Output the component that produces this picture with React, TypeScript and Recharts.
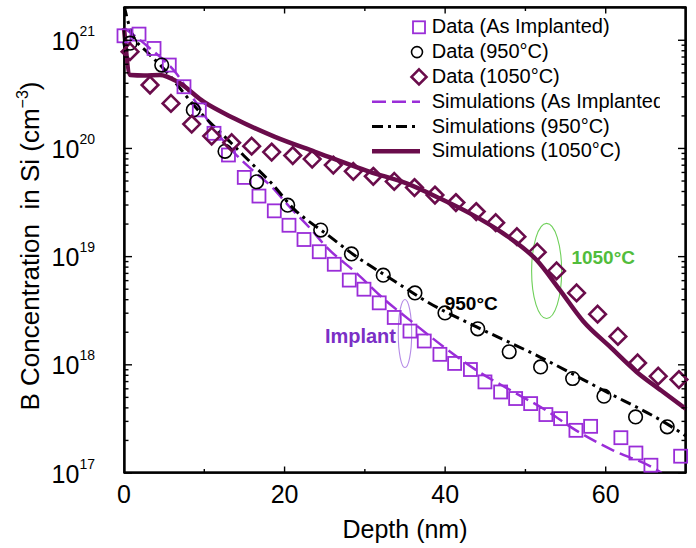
import React from 'react';
import {
  ComposedChart, Line, Scatter, XAxis, YAxis, ReferenceArea, ReferenceDot, Legend,
} from 'recharts';

const W = 696;
const H = 548;
const FONT = '"Liberation Sans", Arial, Helvetica, sans-serif';
const PURPLE = '#9a2dd8';
const MAROON = '#6a0c4b';
const GREEN = '#52bd3c';

// SIMS data (depth in nm, concentration in cm^-3)
const implantDepth = [0, 1.87, 3.74, 5.64, 7.47, 9.38, 11.21, 13.01, 14.98, 16.81, 18.72, 20.55, 22.42, 24.32, 26.19, 28.06, 29.89, 31.79, 33.66, 35.62, 37.4, 39.35, 41.18, 43.15, 44.96, 46.91, 48.78, 50.65, 52.55, 54.38, 56.29, 58.12, 61.89, 63.76, 65.63, 69.33];
const implantConc = [1.1e21, 1.14e21, 8.4e20, 5.9e20, 3.72e20, 2.27e20, 1.38e20, 8.7e19, 5.4e19, 3.63e19, 2.65e19, 1.95e19, 1.44e19, 1.11e19, 8.5e18, 6.07e18, 5.0e18, 3.74e18, 2.74e18, 2.05e18, 1.66e18, 1.25e18, 1.03e18, 9.05e17, 6.95e17, 5.61e17, 4.88e17, 4.38e17, 3.47e17, 3.18e17, 2.48e17, 2.7e17, 2.12e17, 1.53e17, 1.18e17, 1.43e17];

const depth950 = [0.75, 4.7, 8.63, 12.58, 16.52, 20.39, 24.5, 28.33, 32.29, 36.24, 39.98, 44.06, 47.98, 51.89, 55.88, 59.78, 63.72, 67.66];
const conc950 = [9.4e20, 5.9e20, 2.27e20, 9.4e19, 4.92e19, 2.99e19, 1.76e19, 1.06e19, 6.74e18, 4.62e18, 3.02e18, 2.15e18, 1.32e18, 9.56e17, 7.47e17, 5.13e17, 3.3e17, 2.67e17];

const depth1050 = [0.75, 3.24, 5.85, 8.43, 10.92, 13.41, 15.9, 18.39, 21.02, 23.44, 26.07, 28.56, 31.05, 33.66, 36.18, 38.73, 41.34, 43.87, 46.3, 48.94, 51.47, 53.88, 56.37, 58.99, 61.52, 63.97, 66.54, 69.12];
const conc1050 = [7.85e20, 3.86e20, 2.61e20, 1.68e20, 1.3e20, 1.13e20, 1.05e20, 9.26e19, 8.6e19, 7.98e19, 7.02e19, 6.14e19, 5.53e19, 4.96e19, 4.35e19, 3.71e19, 3.16e19, 2.61e19, 2.06e19, 1.53e19, 1.1e19, 7.38e18, 4.62e18, 2.94e18, 1.83e18, 1.04e18, 7.85e17, 7.31e17];

// simulated profiles
const simImpDepth = [0, 1, 3, 6.5, 8.9, 11.3, 13.8, 16, 18.4, 20.6, 23, 25.2, 29, 32.3, 35.6, 39.8, 43.9, 48, 52.55, 56.3, 60.9, 65.7, 67];
const simImpConc = [1.3e21, 1.15e21, 8.7e20, 4.95e20, 2.7e20, 1.48e20, 9.0e19, 6.3e19, 4.42e19, 2.9e19, 1.89e19, 1.23e19, 7.0e18, 4.1e18, 2.59e18, 1.47e18, 8.9e17, 5.9e17, 3.8e17, 2.48e17, 1.62e17, 1.14e17, 1.0e17];

const sim950Depth = [0, 0.9, 3, 4.7, 9.21, 13.41, 16.32, 18.39, 21.3, 23.37, 24.82, 28.98, 33.13, 38.11, 43.92, 51.81, 59.69, 67.58, 70];
const sim950Conc = [2.1e21, 1.2e21, 7.64e20, 5.71e20, 2.27e20, 1.11e20, 6.77e19, 4.76e19, 2.69e19, 2.03e19, 1.7e19, 9.95e18, 6.32e18, 3.69e18, 2.24e18, 1.18e18, 5.82e17, 2.86e17, 2.2e17];

const sim1050Depth = [0, 0.8, 2.5, 4.48, 6.72, 9.96, 13.7, 18.8, 23.79, 30.63, 35.2, 39.35, 43.09, 47.23, 51.39, 54.3, 57.2, 60.52, 63.85, 67.16, 70];
const sim1050Conc = [1.3e21, 4.77e20, 4.72e20, 4.77e20, 4.11e20, 2.69e20, 1.9e20, 1.28e20, 9.31e19, 6.08e19, 4.75e19, 3.45e19, 2.51e19, 1.64e19, 9.29e18, 4.9e18, 2.53e18, 1.47e18, 8.59e17, 5.61e17, 3.9e17];

// axes
const xTicks = [0, 10, 20, 30, 40, 50, 60, 70];
const xMin = 0;
const xMax = 70;
const yDecades = [17, 18, 19, 20, 21];
const yMinorSteps = [2, 3, 4, 5, 6, 7, 8, 9];
const yMin = 1e17;
const yMax = 2.03e21;

const legendLabels = [
  'Data (As Implanted)',
  'Data (950°C)',
  'Data (1050°C)',
  'Simulations (As Implanted)',
  'Simulations (950°C)',
  'Simulations (1050°C)',
];

// annotations: [depth, conc]
const implantNote = { x: 29.45, y: 1.84e18, text: 'Implant' };
const note950 = { x: 43.25, y: 3.72e18, text: '950°C' };
const note1050 = { x: 59.69, y: 9.9e18, text: '1050°C' };
const ellipse1050 = { x1: 50.77, x2: 54.51, y1: 2.68e18, y2: 2.03e19 };
const ellipseImplant = { x1: 34.16, x2: 35.83, y1: 9.44e17, y2: 4.02e18 };

const toPoints = (xs: number[], ys: number[]) => xs.map((x, i) => ({ x, y: ys[i] }));

const yTicks = yDecades
  .flatMap((e) => [Math.pow(10, e), ...yMinorSteps.map((m) => m * Math.pow(10, e))])
  .filter((v) => v <= yMax);

const isMajorY = (v: number) => Math.abs(Math.log10(v) - Math.round(Math.log10(v))) < 1e-6;

function SquareMark({ cx, cy }: any) {
  return <rect x={cx - 6.5} y={cy - 6.5} width={13} height={13} fill="none" stroke={PURPLE} strokeWidth={1.8} />;
}
function CircleMark({ cx, cy }: any) {
  return <circle cx={cx} cy={cy} r={6.8} fill="none" stroke="#000" strokeWidth={1.6} />;
}
function DiamondMark({ cx, cy }: any) {
  const r = 8.3;
  return (
    <path d={`M${cx},${cy - r}L${cx + r},${cy}L${cx},${cy + r}L${cx - r},${cy}Z`}
      fill="none" stroke={MAROON} strokeWidth={2.6} />
  );
}

function LeftTick({ x, y, payload }: any) {
  const v = payload.value;
  const major = isMajorY(v);
  return (
    <g>
      <line x1={x} x2={x + (major ? 8 : 4.5)} y1={y} y2={y} stroke="#000" strokeWidth={1.4} />
      {major && (
        <text x={x - 29} y={y + 9.5} textAnchor="end" fontSize={25} fontFamily={FONT} fill="#000">
          10<tspan dy={-14} fontSize={14}>{Math.round(Math.log10(v))}</tspan>
        </text>
      )}
    </g>
  );
}
function RightTick({ x, y, payload }: any) {
  const major = isMajorY(payload.value);
  return <line x1={x} x2={x - (major ? 8 : 4.5)} y1={y} y2={y} stroke="#000" strokeWidth={1.4} />;
}
function BottomTick({ x, y, payload }: any) {
  const v = payload.value;
  const major = v % 20 === 0;
  return (
    <g>
      {v > 0 && v < 70 && <line x1={x} x2={x} y1={y} y2={y - (major ? 6.5 : 4)} stroke="#000" strokeWidth={1.4} />}
      {major && (
        <text x={x} y={y + 30} textAnchor="middle" fontSize={25} fontFamily={FONT} fill="#000">{v}</text>
      )}
    </g>
  );
}
function TopTick({ x, y, payload }: any) {
  const v = payload.value;
  if (v <= 0 || v >= 70) return <g />;
  return <line x1={x} x2={x} y1={y} y2={y + (v % 20 === 0 ? 6.5 : 4)} stroke="#000" strokeWidth={1.4} />;
}

function YLabel({ viewBox }: any) {
  const cx = viewBox.x + 38.5;
  const cy = viewBox.y + viewBox.height / 2 + 6;
  return (
    <text x={cx} y={cy} transform={`rotate(-90, ${cx}, ${cy})`} textAnchor="middle"
      fontSize={26} fontFamily={FONT} fill="#000" xmlSpace="preserve" style={{ whiteSpace: 'pre' }}>
      B Concentration  in Si (cm<tspan dy={-11} fontSize={16}>−3</tspan><tspan dy={11}>)</tspan>
    </text>
  );
}
function XLabel({ viewBox }: any) {
  return (
    <text x={viewBox.x + viewBox.width / 2} y={viewBox.y + 65} textAnchor="middle"
      fontSize={25} fontFamily={FONT} fill="#000">Depth (nm)</text>
  );
}

function LegendBox() {
  const rowY = (i: number) => 25.3 + 24.8 * i;
  const sym = (i: number) => {
    const cy = rowY(i) - 6;
    if (i === 0) return <rect x={53} y={cy - 6} width={12} height={12} fill="none" stroke={PURPLE} strokeWidth={1.8} />;
    if (i === 1) return <circle cx={57} cy={cy} r={5.5} fill="none" stroke="#000" strokeWidth={1.6} />;
    if (i === 2) return <path d={`M59,${cy - 7.5}L66.5,${cy}L59,${cy + 7.5}L51.5,${cy}Z`} fill="none" stroke={MAROON} strokeWidth={2.6} />;
    if (i === 3) return <line x1={12} x2={60} y1={cy} y2={cy} stroke={PURPLE} strokeWidth={2.5} strokeDasharray="14 6" />;
    if (i === 4) return <line x1={12} x2={60} y1={cy} y2={cy} stroke="#000" strokeWidth={3} strokeDasharray="11 5 3 5" />;
    return <line x1={12} x2={60} y1={cy} y2={cy} stroke={MAROON} strokeWidth={4.5} />;
  };
  return (
    <svg width={300} height={160}>
      {legendLabels.map((label, i) => (
        <g key={label}>
          {sym(i)}
          <text x={71.7} y={rowY(i)} fontSize={20} fontFamily={FONT} fill="#000">{label}</text>
        </g>
      ))}
    </svg>
  );
}

const EllipseShape = (color: string) => (p: any) => (
  <ellipse cx={p.x + p.width / 2} cy={p.y + p.height / 2} rx={Math.abs(p.width) / 2} ry={Math.abs(p.height) / 2}
    fill="none" stroke={color} strokeWidth={1.1} />
);
// box around the plot area, drawn a hair inside so it is never cut
const FrameShape = (p: any) => (
  <rect x={p.x + 0.5} y={p.y + 0.5} width={p.width - 1} height={p.height - 1}
    fill="none" stroke="#000" strokeWidth={2.4} />
);
const NoteShape = (text: string, color: string, size: number) => (p: any) => (
  <text x={p.cx} y={p.cy + size * 0.36} textAnchor="middle" fontSize={size} fontWeight="bold"
    fontFamily={FONT} fill={color}>{text}</text>
);

export default function App() {
  const axisLine = { stroke: '#000', strokeWidth: 1.6 };
  return (
    <div style={{ position: 'absolute', left: 0, top: 0, width: W, height: H, background: '#fff' }}>
      <ComposedChart width={W} height={H} margin={{ top: 0, right: 0, bottom: 0, left: 0 }}>
        <XAxis xAxisId="b" dataKey="x" type="number" domain={[xMin, xMax]} ticks={xTicks} interval={0}
          height={75} tickSize={0} tickMargin={0} axisLine={axisLine} tickLine={false}
          tick={(p: any) => <BottomTick {...p} />} label={(p: any) => <XLabel {...p} />} />
        <XAxis xAxisId="t" orientation="top" dataKey="x" type="number" domain={[xMin, xMax]} ticks={xTicks}
          interval={0} height={7} tickSize={0} tickMargin={0} axisLine={axisLine}
          tickLine={false} tick={(p: any) => <TopTick {...p} />} />
        <YAxis yAxisId="l" dataKey="y" scale="log" type="number" domain={[yMin, yMax]} ticks={yTicks}
          interval={0} width={124} tickSize={0} tickMargin={0} axisLine={axisLine} tickLine={false}
          tick={(p: any) => <LeftTick {...p} />} label={(p: any) => <YLabel {...p} />} allowDataOverflow />
        <YAxis yAxisId="r" orientation="right" dataKey="y" scale="log" type="number" domain={[yMin, yMax]}
          ticks={yTicks} interval={0} width={10} tickSize={0} tickMargin={0}
          axisLine={axisLine} tickLine={false}
          tick={(p: any) => <RightTick {...p} />} allowDataOverflow />

        <ReferenceArea xAxisId="b" yAxisId="l" x1={xMin} x2={xMax} y1={yMin} y2={yMax} shape={FrameShape}
          ifOverflow="visible" />

        <Scatter xAxisId="b" yAxisId="l" data={toPoints(implantDepth, implantConc)} shape={SquareMark}
          isAnimationActive={false} />
        <Scatter xAxisId="b" yAxisId="l" data={toPoints(depth950, conc950)} shape={CircleMark}
          isAnimationActive={false} />
        <Scatter xAxisId="b" yAxisId="l" data={toPoints(depth1050, conc1050)} shape={DiamondMark}
          isAnimationActive={false} />

        <Line xAxisId="b" yAxisId="l" data={toPoints(simImpDepth, simImpConc)} dataKey="y" type="monotone"
          stroke={PURPLE} strokeWidth={2.5} strokeDasharray="14 6" dot={false} isAnimationActive={false} />
        <Line xAxisId="b" yAxisId="l" data={toPoints(sim950Depth, sim950Conc)} dataKey="y" type="monotone"
          stroke="#000" strokeWidth={3} strokeDasharray="11 5 3 5" dot={false} isAnimationActive={false} />
        <Line xAxisId="t" yAxisId="r" data={toPoints(sim1050Depth, sim1050Conc)} dataKey="y" type="monotone"
          stroke={MAROON} strokeWidth={4.5} dot={false} isAnimationActive={false} />

        <ReferenceArea xAxisId="b" yAxisId="l" x1={ellipse1050.x1} x2={ellipse1050.x2} y1={ellipse1050.y1}
          y2={ellipse1050.y2} shape={EllipseShape('#6fd05a')} />
        <ReferenceArea xAxisId="b" yAxisId="l" x1={ellipseImplant.x1} x2={ellipseImplant.x2}
          y1={ellipseImplant.y1} y2={ellipseImplant.y2} shape={EllipseShape('#b48ae6')} />
        <ReferenceDot xAxisId="b" yAxisId="l" x={implantNote.x} y={implantNote.y} r={0}
          shape={NoteShape(implantNote.text, '#7b2fc6', 20)} />
        <ReferenceDot xAxisId="b" yAxisId="l" x={note950.x} y={note950.y} r={0}
          shape={NoteShape(note950.text, '#000', 19)} />
        <ReferenceDot xAxisId="b" yAxisId="l" x={note1050.x} y={note1050.y} r={0}
          shape={NoteShape(note1050.text, GREEN, 19)} />

        <Legend layout="vertical" align="center" verticalAlign="middle" width={300} height={160}
          wrapperStyle={{ left: 360, top: 8, width: 300, height: 160 }} content={() => <LegendBox />} />
      </ComposedChart>
    </div>
  );
}
